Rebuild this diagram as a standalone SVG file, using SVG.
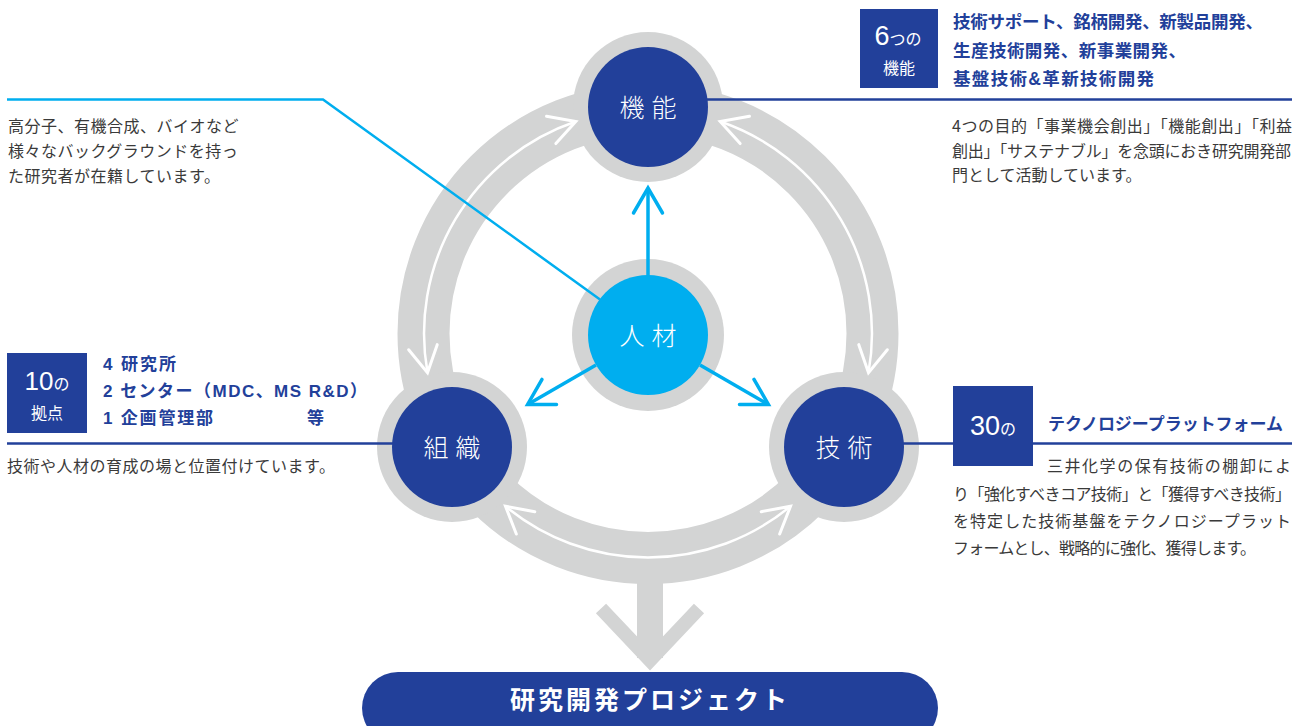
<svg xmlns="http://www.w3.org/2000/svg" width="1294" height="726" viewBox="0 0 1294 726">
<defs>
<style>
.body{font-family:"Noto Sans CJK JP","Noto Sans",sans-serif;font-size:16px;fill:#3a3a3a;}
.lsp{letter-spacing:0.5px;}
.head{font-family:"Liberation Sans","Noto Sans CJK JP",sans-serif;font-weight:700;fill:#22409a;}
.nlabel{font-family:"Noto Sans CJK JP",sans-serif;font-weight:300;font-size:25px;fill:#fff;letter-spacing:7px;text-anchor:middle;}
.badge{fill:#22409a;}
.bt{font-family:"Liberation Sans","Noto Sans CJK JP",sans-serif;fill:#fff;text-anchor:middle;}
.gray{fill:#d3d4d4;}
.navy{fill:#22409a;}
.cyan{fill:#00aeef;}
.nline{stroke:#22409a;stroke-width:2.5;fill:none;}
.cline{stroke:#00aeef;stroke-width:2.5;fill:none;}
.carrow{stroke:#00aeef;stroke-width:3.5;fill:none;marker-end:url(#cy);}
.warc{stroke:#fff;stroke-width:2.5;fill:none;marker-start:url(#wh);marker-end:url(#wh);}
</style>
<marker id="wh" markerUnits="userSpaceOnUse" orient="auto-start-reverse" overflow="visible" refX="0" refY="0" markerWidth="1" markerHeight="1">
<path d="M-26 -14.5 L0 0 L-26 14.5" fill="none" stroke="#fff" stroke-width="3" stroke-linecap="round"/>
</marker>
<marker id="cy" markerUnits="userSpaceOnUse" orient="auto" overflow="visible" refX="0" refY="0" markerWidth="1" markerHeight="1">
<path d="M-25 -14.5 L0 0 L-25 14.5" fill="none" stroke="#00aeef" stroke-width="3.5" stroke-linecap="round"/>
</marker>
</defs>

<g id="ring">
<circle cx="648" cy="333.5" r="224.5" fill="none" stroke="#d3d4d4" stroke-width="52"/>
<rect class="gray" x="637" y="570" width="26" height="88"/>
<polyline points="601,608.5 650,660.4 699,608.5" fill="none" stroke="#d3d4d4" stroke-width="14" stroke-linejoin="miter"/>
</g>

<g id="halos">
<circle class="gray" cx="648" cy="107" r="75"/>
<circle class="gray" cx="648" cy="335" r="76"/>
<circle class="gray" cx="452" cy="447" r="75"/>
<circle class="gray" cx="844" cy="447" r="75"/>
</g>

<g id="connectors">
<path class="warc" d="M427.5 372.8 A224 224 0 0 1 575.8 121.5"/>
<path class="warc" d="M868.5 372.8 A224 224 0 0 0 720.2 121.5"/>
<path class="warc" d="M790.5 506.3 A224 224 0 0 1 505.5 506.3"/>
<line class="carrow" x1="648" y1="276" x2="648" y2="188"/>
<line class="carrow" x1="596" y1="365" x2="527.6" y2="404.5"/>
<line class="carrow" x1="700" y1="365" x2="768.4" y2="404.5"/>
<polyline class="cline" points="7,99.5 323,99.5 600,299.5"/>
<line class="nline" x1="700" y1="99.5" x2="1292" y2="99.5"/>
<line class="nline" x1="7" y1="443.5" x2="400" y2="443.5"/>
<line class="nline" x1="900" y1="443.5" x2="1292" y2="443.5"/>
</g>

<g id="node-kinou">
<circle class="navy" cx="648" cy="107" r="60"/>
<text class="nlabel" x="651.5" y="116.5">機能</text>
</g>
<g id="node-jinzai">
<circle class="cyan" cx="648" cy="335" r="60"/>
<text class="nlabel" x="651.5" y="344.5">人材</text>
</g>
<g id="node-soshiki">
<circle class="navy" cx="452" cy="447" r="60"/>
<text class="nlabel" x="455.5" y="456.5">組織</text>
</g>
<g id="node-gijutsu">
<circle class="navy" cx="844" cy="447" r="60"/>
<text class="nlabel" x="847.5" y="456.5">技術</text>
</g>

<g id="node-project">
<rect class="navy" x="362" y="672" width="576" height="72" rx="36"/>
<text x="510" y="708.5" font-family="Noto Sans CJK JP, sans-serif" font-weight="700" font-size="25" fill="#fff" textLength="277" lengthAdjust="spacing">研究開発プロジェクト</text>
</g>

<g id="note-kinou">
<rect class="badge" x="860" y="9" width="78" height="79"/>
<text class="bt" x="898" y="45"><tspan font-size="27">6</tspan><tspan font-size="16" font-family="Noto Sans CJK JP, sans-serif">つの</tspan></text>
<text class="bt" x="899" y="74" font-size="16" font-family="Noto Sans CJK JP, sans-serif">機能</text>
<text class="head" font-size="17.5" x="953" y="28" textLength="310" lengthAdjust="spacing">技術サポート、銘柄開発、新製品開発、</text>
<text class="head" font-size="17.5" x="953" y="56.5" textLength="233" lengthAdjust="spacing">生産技術開発、新事業開発、</text>
<text class="head" font-size="17.5" x="953" y="85" textLength="201" lengthAdjust="spacing">基盤技術&amp;革新技術開発</text>
<text class="body" x="952" y="132" textLength="340" lengthAdjust="spacing">4つの目的「事業機会創出」「機能創出」「利益</text>
<text class="body" x="952" y="156.5" textLength="339" lengthAdjust="spacing">創出」「サステナブル」を念頭におき研究開発部</text>
<text class="body" x="952" y="181">門として活動しています。</text>
</g>

<g id="note-jinzai">
<text class="body lsp" x="8" y="132">高分子、有機合成、バイオなど</text>
<text class="body lsp" x="8" y="157">様々なバックグラウンドを持っ</text>
<text class="body lsp" x="8" y="182">た研究者が在籍しています。</text>
</g>

<g id="note-soshiki">
<rect class="badge" x="7" y="353" width="80" height="80"/>
<text class="bt" x="47" y="390"><tspan font-size="26">10</tspan><tspan font-size="16" font-family="Noto Sans CJK JP, sans-serif">の</tspan></text>
<text class="bt" x="47" y="419" font-size="16" font-family="Noto Sans CJK JP, sans-serif">拠点</text>
<text class="head" font-size="17" x="103" y="370" textLength="73" lengthAdjust="spacing">4 研究所</text>
<text class="head" font-size="17" x="103" y="396.5" textLength="264" lengthAdjust="spacing">2 センター（MDC、MS R&amp;D）</text>
<text class="head" font-size="17" x="103" y="423.5" textLength="110" lengthAdjust="spacing">1 企画管理部</text>
<text class="head" font-size="17" x="307" y="423.5">等</text>
<text class="body lsp" x="7" y="472">技術や人材の育成の場と位置付けています。</text>
</g>

<g id="note-gijutsu">
<rect class="badge" x="953" y="386" width="80" height="80"/>
<text class="bt" x="993" y="435"><tspan font-size="27">30</tspan><tspan font-size="16" font-family="Noto Sans CJK JP, sans-serif">の</tspan></text>
<text class="head" font-size="17" x="1048" y="430" textLength="235" lengthAdjust="spacing">テクノロジープラットフォーム</text>
<text class="body" x="1047" y="472" textLength="244" lengthAdjust="spacing">三井化学の保有技術の棚卸によ</text>
<text class="body" x="953" y="499.5" textLength="338" lengthAdjust="spacing">り「強化すべきコア技術」と「獲得すべき技術」</text>
<text class="body" x="953" y="526.5" textLength="338" lengthAdjust="spacing">を特定した技術基盤をテクノロジープラット</text>
<text class="body" x="953" y="553.5" textLength="303" lengthAdjust="spacing">フォームとし、戦略的に強化、獲得します。</text>
</g>
</svg>
